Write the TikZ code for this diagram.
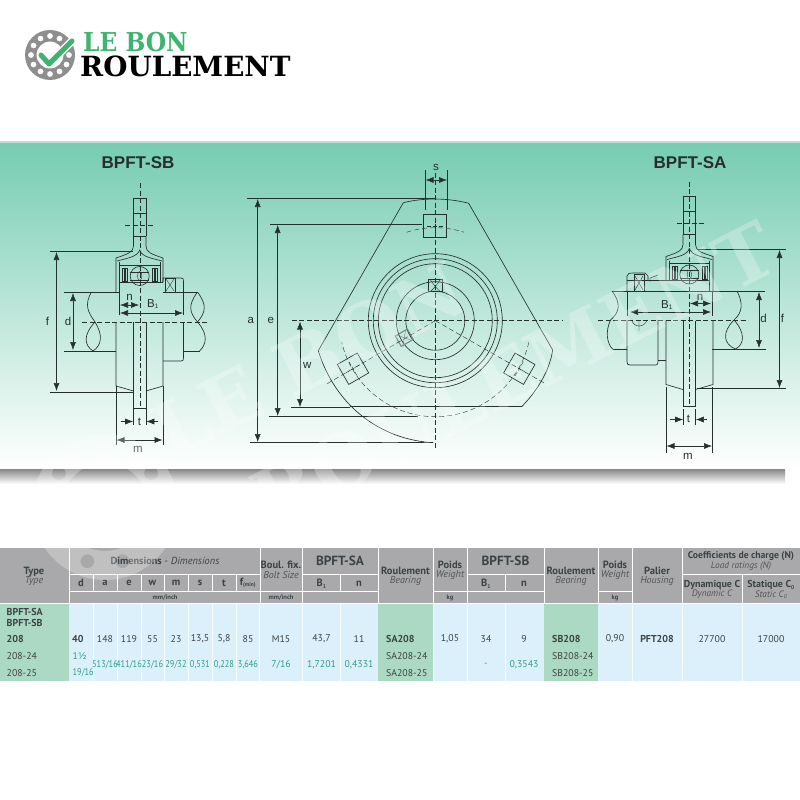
\documentclass[tikz,border=0pt]{standalone}
\usepackage{fontspec}
\setmainfont{PT Sans}
\newfontfamily\labelfont{Liberation Sans}
\newfontfamily\slabfont{DejaVu Serif}
\usetikzlibrary{arrows.meta}
\definecolor{hdrgray}{HTML}{A9A9AB}
\definecolor{bodyblue}{HTML}{DCF0FB}
\definecolor{bodygreen}{HTML}{ABD9C3}
\definecolor{inchgreen}{HTML}{2F9E88}
\definecolor{txtdark}{HTML}{3C4344}
\definecolor{inkline}{HTML}{25302E}
\definecolor{logogreen}{HTML}{3DB56E}
\definecolor{logogray}{HTML}{8E8E8E}
\definecolor{bandtop}{HTML}{76CCB1}
\definecolor{bandmid}{HTML}{BAE4D6}
\newcount\cellno
\newcommand\tc[4][]{\global\advance\cellno by 1 \node[cell,#1] (c\the\cellno) at (#2,#3) {#4};}
\tikzset{
  ink/.style={draw=inkline,line width=0.65pt},
  thin ink/.style={draw=inkline,line width=0.4pt},
  centerline/.style={draw=inkline,line width=0.45pt,dash pattern=on 5pt off 2.5pt},
  dim/.style={draw=inkline,line width=0.55pt,{Latex[length=8pt,width=6pt]}-{Latex[length=8pt,width=6pt]}},
  dimin/.style={draw=inkline,line width=0.55pt,-{Latex[length=8pt,width=6pt]}},
  ext/.style={draw=inkline,line width=0.45pt},
  lab/.style={font=\labelfont\fontsize{11.5}{12}\selectfont,text=inkline,inner sep=0pt},
  title/.style={font=\labelfont\bfseries\fontsize{17}{18}\selectfont,text=inkline,inner sep=0pt},
  cell/.style={inner sep=0pt,align=center,text=txtdark,font=\fontsize{9.8}{10}\selectfont},
  inch/.style={text=inchgreen},
  squeeze/.style={xscale=.85},
  bold/.style={font=\bfseries\fontsize{10}{10}\selectfont},
  hb/.style={font=\bfseries\fontsize{10.5}{11}\selectfont,text=txtdark},
  hi/.style={font=\itshape\fontsize{10}{11}\selectfont,text=txtdark!90},
  hbig/.style={font=\bfseries\fontsize{13.3}{14}\selectfont,text=txtdark},
  tiny/.style={font=\bfseries\fontsize{6.5}{7}\selectfont,text=txtdark},
}
\newcommand\stemview{%
  \draw[ink] (133.5,236) -- (133.5,198) -- (146,198) -- (146,236);
  \draw[thin ink] (133.5,213) -- (146,213) (133.5,236) -- (146,236);
  \draw[ink] (133.5,236) -- (133.5,246) .. controls (133.5,252) and (128,254) .. (116,258) -- (116,293);
  \draw[ink] (146,236) -- (146,246) .. controls (146,252) and (151,254) .. (163,258) -- (163,282);
  \draw[ink] (117,261) .. controls (128,258) and (137,257) .. (139.7,250) .. controls (142,257) and (151,258) .. (162,261);
  \draw[thin ink] (119.5,262) -- (119.5,282) (160,262) -- (160,282);
  \draw[thin ink] (119.5,265) -- (160,265);
  \draw[thin ink] (122,268) rectangle (127,281) (152,268) rectangle (157,281);
  \draw[thin ink] (123.7,268) -- (123.7,281) (125.3,268) -- (125.3,281) (153.7,268) -- (153.7,281) (155.3,268) -- (155.3,281);
  \draw[ink] (139.7,276) circle (9.5);
  \draw[thin ink] (130,272) -- (149,272) (130,280) -- (149,280);
  \draw[thin ink] (139.7,276) ellipse (2.2 and 4.5);
  \draw[ink] (119.5,282) -- (163,282) (119.5,282) -- (119.5,292);
  \draw[ink] (116,322) -- (116,386) -- (133.5,391);
  \draw[ink] (163,322) -- (163,386) -- (146,391);
  \draw[ink] (133.5,322) -- (133.5,408) -- (146,408) -- (146,322);
  \draw[centerline] (140,183) -- (140,408);
  \draw[centerline] (125,225) -- (154,225);
}
\newcommand\boltsquare{%
  \draw[ink] (-11.5,-11.5) rectangle (11.5,11.5);
  \draw[thin ink,dash pattern=on 4pt off 2pt] (-8,0) -- (8,0) (0,-8) -- (0,8);
}
\begin{document}
\begin{tikzpicture}[x=1pt,y=-1pt]
\useasboundingbox (0,0) rectangle (800,800);
\fill[white] (0,0) rectangle (800,800);
% ---------- band ----------
\shade[top color=black!50,bottom color=white] (0,468) rectangle (785,484);
\shade[top color=bandtop,middle color=bandmid,bottom color=white] (0,142) rectangle (800,468.5);
\fill[bandtop!55] (0,141) rectangle (800,142.5);
% ---------- logo ----------
\begin{scope}[shift={(50,55)}]
  \fill[logogray,even odd rule] (0,0) circle (25) (0,0) circle (13.5)
    (0:19) circle (3) (30:19) circle (3) (60:19) circle (3) (90:19) circle (3) (120:19) circle (3) (150:19) circle (3)
    (180:19) circle (3) (210:19) circle (3) (240:19) circle (3) (270:19) circle (3) (300:19) circle (3) (330:19) circle (3);
\end{scope}
\draw[white,line width=8pt,line cap=round,line join=round] (41,55) -- (49,64) -- (72,41);
\draw[logogreen,line width=5pt,line cap=round,line join=round] (41,55) -- (49,64) -- (72,41);
\node[anchor=base west,inner sep=0pt,text=logogreen,xscale=.9,font=\slabfont\bfseries\fontsize{26}{27}\selectfont] (logoA) at (83,51.5) {LE BON};
\node[anchor=base west,inner sep=0pt,text=black,font=\slabfont\bfseries\fontsize{27.8}{30}\selectfont] (logoB) at (80,76.5) {ROULEMENT};
% ---------- titles ----------
\node[title] (tsb) at (138,162.5) {BPFT-SB};
\node[title] (tsa) at (690,162.5) {BPFT-SA};
% ---------- left view BPFT-SB ----------
\stemview
\draw[ink] (119.5,292) -- (88,292);
\draw[ink] (163,292) -- (198,292);
\draw[ink] (163,282) -- (163,278) -- (181,278) .. controls (183,278) and (183.5,279) .. (183.5,281) -- (183.5,292);
\draw[thin ink] (165,278) rectangle (175,292);
\draw[thin ink] (166,279) -- (170,285) -- (174,279) (166,291) -- (170,285) -- (174,291);
\draw[ink] (163,361) -- (181,361) .. controls (183,361) and (183.5,360) .. (183.5,358) -- (183.5,322);
\draw[ink] (183.5,351) -- (200,351) (116,351) -- (93,351);
\draw[ink] (91.5,292) .. controls (84,305) and (88,312) .. (95,322);
\draw[ink] (95,322) .. controls (83,335) and (84,345) .. (93,351);
\draw[ink] (95,322) .. controls (103,335) and (102,345) .. (93,351);
\draw[ink] (197.5,292) .. controls (188,305) and (189,312) .. (197.5,322);
\draw[ink] (197.5,292) .. controls (207,305) and (206,312) .. (197.5,322);
\draw[ink] (197.5,322) .. controls (209,335) and (206,345) .. (199.5,351);
\draw[centerline] (82,322) -- (207,322);
\draw[thin ink] (119.5,292) -- (119.5,315) (183.5,292) -- (183.5,315);
\draw[ext] (50,251) -- (133,251) (50,392) -- (133,392);
\draw[dim] (56.5,252) -- (56.5,391);
\node[lab] (fL) at (47.5,321.5) {f};
\draw[ext] (64,292) -- (119,292) (64,351) -- (116,351);
\draw[dim] (73,293) -- (73,350);
\node[lab] (dL) at (68,321.5) {d};
\draw[dim] (120,305) -- (139,305);
\node[lab] (nL) at (129.5,297) {n};
\draw[dim] (120,313) -- (183,313);
\node[lab] (b1L) at (153,304) {B\textsubscript{\fontsize{6.5}{7}\selectfont 1}};
\draw[ext] (133.5,408) -- (133.5,425) (146,408) -- (146,425);
\draw[dimin] (121,421.5) -- (133.2,421.5);
\draw[dimin] (158,421.5) -- (146.3,421.5);
\node[lab] (tL) at (139.5,421.5) {t};
\draw[ext] (116,386) -- (116,445) (163,386) -- (163,445);
\draw[dim] (116.5,440) -- (162.5,440);
\node[lab] (mL) at (138,449) {m};
% ---------- right view BPFT-SA ----------
\begin{scope}[xshift=829pt,xscale=-1,yshift=1.5pt]
  \stemview
\end{scope}
\draw[ink] (612,291) -- (737,291);
\draw[ink] (712,349) -- (766,349);
\draw[ink] (666,280.5) -- (627,280.5);
\draw[ink] (627,291) -- (627,276) .. controls (627,273) and (630,273) .. (633,273) -- (645,273) -- (648,276) -- (648,280.5);
\draw[thin ink] (634,274) rectangle (644,291);
\draw[thin ink] (635,276) -- (639,283) -- (643,276) (635,290) -- (639,283) -- (643,290);
\draw[thin ink] (650,278) -- (658,275) (650,278) -- (650,282);
\draw[ink] (627,320) -- (627,362) .. controls (627,364) and (628,365) .. (630,365) -- (656,365) .. controls (657,365) and (658,364) .. (658,362) -- (658,320);
\draw[ink] (658,360) -- (666,360);
\draw[thin ink] (632,320) .. controls (633,328) and (645,328) .. (647,320) (639,320) -- (639,331);
\draw[ink] (612,291) .. controls (621,303) and (620,312) .. (610.5,320);
\draw[ink] (610.5,320) .. controls (605,332) and (607,344) .. (613,349.5) -- (627,349.5);
\draw[ink] (737,291) .. controls (743,303) and (743,312) .. (734,320);
\draw[ink] (734,320) .. controls (722,332) and (723,344) .. (735.5,349);
\draw[ink] (734,320) .. controls (745,332) and (745,344) .. (735.5,349);
\draw[centerline] (598,320) -- (748,320);
\draw[thin ink] (627,291) -- (627,316) (712,291) -- (712,316);
\draw[ext] (697,249) -- (786,249) (697,388.5) -- (786,388.5);
\draw[dim] (779.5,250) -- (779.5,388);
\node[lab] (fR) at (782.5,318.5) {f};
\draw[ext] (737,291) -- (765,291);
\draw[dim] (759,292) -- (759,348);
\node[lab] (dR) at (763.5,318.5) {d};
\draw[dim] (690,303.5) -- (711,303.5);
\node[lab] (nR) at (700,297) {n};
\draw[dim] (630,312) -- (711,312);
\node[lab] (b1R) at (667,305) {B\textsubscript{\fontsize{6.5}{7}\selectfont 1}};
\draw[ext] (683.5,409) -- (683.5,425) (695.5,409) -- (695.5,425);
\draw[dimin] (670,419.5) -- (683.2,419.5);
\draw[dimin] (707,419.5) -- (695.8,419.5);
\node[lab] (tR) at (688.5,419) {t};
\draw[ext] (666,387) -- (666,453) (712.5,387) -- (712.5,453);
\draw[dim] (666.5,446) -- (712,446);
\node[lab] (mR) at (688,456) {m};
% ---------- centre view ----------
\begin{scope}[shift={(435.3,320.7)}]
  \draw[ink] (-32,-118) .. controls (-12,-123) and (12,-123) .. (33.4,-117.4) -- (117.4,29.3);
  \draw[ink] (117.4,29.3) .. controls (114,52) and (100,72) .. (86.4,86);
  \draw[ink] (-32,-118) -- (-117,30);
  \draw[ink] (-117,30) .. controls (-100,85) and (-55,119) .. (-2,122);
  \draw[line width=1pt,draw=inkline] (-85,86) -- (86.4,86);
  \draw[ink] (0,0) circle (67) (0,0) circle (62) (0,0) circle (57);
  \draw[ink] (0,0) circle (39) (0,0) circle (29.5);
  \draw[thin ink,dash pattern=on 5pt off 3pt] plot[domain=-108:-72,samples=20] (\x:93);
  \draw[thin ink,dash pattern=on 5pt off 3pt] plot[domain=13:167,samples=60] (\x:96);
  \begin{scope}[shift={(0,-95)}]\boltsquare\end{scope}
  \begin{scope}[shift={(-82.3,48)},rotate=30]\boltsquare\end{scope}
  \begin{scope}[shift={(84,48)},rotate=-30]\boltsquare\end{scope}
  \draw[ink] (-7,-41) rectangle (7,-29);
  \draw[thin ink] (-5,-41) -- (0,-34) -- (5,-41) (-5,-29) -- (0,-34) -- (5,-29);
  \begin{scope}[shift={(-31,17)},rotate=30]
    \draw[draw=inkline!60,line width=1pt] (-7,-6) rectangle (7,6);
    \draw[draw=inkline!60,line width=0.4pt] (-5,-6) -- (0,0) -- (5,-6) (-5,6) -- (0,0) -- (5,6);
  \end{scope}
  \draw[centerline] (0,-148) -- (0,127);
  \draw[centerline] (-143.5,0) -- (128,0);
  \draw[thin ink,dash pattern=on 5pt off 3pt] (0,0) -- (-109,63.5) (0,0) -- (111,63.5);
\end{scope}
\draw[ext] (247,198.3) -- (435,198.3) (250,442.7) -- (433,442.7);
\draw[dim] (257.7,199) -- (257.7,442);
\node[lab] (aC) at (250.7,320.7) {a};
\draw[ext] (270,224.3) -- (422,224.3) (269,416.7) -- (418,416.7);
\draw[dim] (277.7,225) -- (277.7,416);
\node[lab] (eC) at (270.7,320.7) {e};
\draw[ext] (291,407.5) -- (350,407.5);
\draw[dim] (300,321.5) -- (300,407);
\node[lab] (wC) at (307.3,365.3) {w};
\draw[ext] (425,170) -- (425,210) (447.3,170) -- (447.3,210);
\draw[dim] (425.5,180) -- (447,180);
\node[lab] (sC) at (436,167.3) {s};
% ---------- table ----------
\fill[hdrgray] (0,548) rectangle (800,603);
\fill[bodyblue] (69,603) rectangle (800,681);
\fill[bodygreen] (0,603) rectangle (69,681);
\fill[bodygreen] (378,603) rectangle (433,681);
\fill[bodygreen] (544,603) rectangle (598,681);
\begin{scope}[white,line width=0.8pt]
  \foreach \x in {69,260,302.5,378,433,467,544,598,632,682} {\draw (\x,548) -- (\x,603);}
  \foreach \x in {93,117,141,164,188,212,236} {\draw (\x,574) -- (\x,591);}
  \foreach \x in {340,505} {\draw (\x,574) -- (\x,591);}
  \draw (742,574) -- (742,603);
  \draw (69,574) -- (260,574) (302.5,574) -- (378,574) (467,574) -- (544,574) (682,574) -- (800,574);
  \draw (69,591) -- (378,591) (433,591) -- (544,591) (598,591) -- (632,591);
  \draw (0,603) -- (800,603);
  \foreach \x in {93,117,141,164,188,212,236,259.5,302.5,340,433,467,505,632,682,742} {\draw[opacity=.75,line width=0.7pt] (\x,603.5) -- (\x,681);}
\end{scope}
\tc[hb]{34}{571.5}{Type}
\tc[hi]{34}{581}{Type}
\tc[font=\fontsize{10.3}{11}\selectfont]{165}{561}{\bfseries Dimensions\ \mdseries - \itshape Dimensions}
\foreach \x/\y in {81/d,105/a,129/e,152.5/w,176/m,200/s,224/t} {\tc[hb]{\x}{583}{\y}}
\tc[hb]{248}{583}{f\textsubscript{\fontsize{5.5}{6}\selectfont (min)}}
\tc[tiny]{165}{597.5}{mm/inch}
\tc[hb]{281}{565}{Boul. fix.}
\tc[hi]{281}{575}{Bolt Size}
\tc[tiny]{281}{597.5}{mm/inch}
\tc[hbig]{340}{561}{BPFT-SA}
\tc[hb]{321.5}{583.5}{B\textsubscript{\fontsize{5.5}{6}\selectfont 1}}
\tc[hb]{359}{583.5}{n}
\tc[hb]{405.5}{571}{Roulement}
\tc[hi]{405.5}{581}{Bearing}
\tc[hb]{450}{565}{Poids}
\tc[hi]{450}{575}{Weight}
\tc[tiny]{450}{597.5}{kg}
\tc[hbig]{505.5}{561}{BPFT-SB}
\tc[hb]{486}{583.5}{B\textsubscript{\fontsize{5.5}{6}\selectfont 1}}
\tc[hb]{524}{583.5}{n}
\tc[hb]{571}{571}{Roulement}
\tc[hi]{571}{581}{Bearing}
\tc[hb]{615}{565}{Poids}
\tc[hi]{615}{575}{Weight}
\tc[tiny]{615}{597.5}{kg}
\tc[hb]{657}{571}{Palier}
\tc[hi]{657}{581}{Housing}
\tc[hb,font=\bfseries\fontsize{9.7}{10}\selectfont]{741}{556}{Coefficients de charge (N)}
\tc[hi,font=\itshape\fontsize{9.3}{10}\selectfont]{741}{566}{Load ratings (N)}
\tc[hb,font=\bfseries\fontsize{10}{11}\selectfont]{712}{585}{Dynamique C}
\tc[hi,font=\itshape\fontsize{9.3}{10}\selectfont]{712}{594.5}{Dynamic C}
\tc[hb,font=\bfseries\fontsize{10}{11}\selectfont]{771}{585}{Statique C\textsubscript{\fontsize{5.5}{6}\selectfont 0}}
\tc[hi,font=\itshape\fontsize{9.3}{10}\selectfont]{771}{594.5}{Static C\textsubscript{\fontsize{5.5}{6}\selectfont 0}}
\tc[bold,anchor=west]{6.5}{611.5}{BPFT-SA}
\tc[bold,anchor=west]{6.5}{623}{BPFT-SB}
\tc[bold,anchor=west]{6.5}{639}{208}
\tc[anchor=west]{6.5}{656}{208-24}
\tc[anchor=west]{6.5}{673}{208-25}
\tc[bold,anchor=west]{72}{639}{40}
\tc[inch,anchor=west]{72.5}{656}{1½}
\tc[inch,squeeze,anchor=west]{72.5}{673}{19/16}
\foreach \x/\y in {105/148,129/119,152.5/55,176/23,200/{13,5},224/{5,8},248/85,281/M15,321.5/{43,7},359/11,450/{1,05},486/34,524/9,615/{0,90},712/27700,771/17000} {\tc{\x}{639}{\y}}
\tc[inch,squeeze]{105}{665}{513/16}
\tc[inch,squeeze]{129}{665}{411/16}
\tc[inch,squeeze]{152.5}{665}{23/16}
\tc[inch,squeeze]{176}{665}{29/32}
\tc[inch,squeeze]{200}{665}{0,531}
\tc[inch,squeeze]{224}{665}{0,228}
\tc[inch,squeeze]{248}{665}{3,646}
\tc[inch]{281}{665}{7/16}
\tc[inch]{321.5}{665}{1,7201}
\tc[inch]{359}{665}{0,4331}
\tc[inch]{486}{665}{-}
\tc[inch]{524}{665}{0,3543}
\tc[bold,anchor=west]{386}{639}{SA208}
\tc[anchor=west]{386}{656}{SA208-24}
\tc[anchor=west]{386}{673}{SA208-25}
\tc[bold,anchor=west]{552}{639}{SB208}
\tc[anchor=west]{552}{656}{SB208-24}
\tc[anchor=west]{552}{673}{SB208-25}
\tc[bold]{657}{639}{PFT208}
% ---------- watermark ----------
\begin{scope}[opacity=.27]
  \begin{scope}[shift={(105,507)}]
    \fill[white,even odd rule] (0,0) circle (73) (0,0) circle (44)
      (0:57) circle (7) (36:57) circle (7) (72:57) circle (7) (108:57) circle (7) (144:57) circle (7)
      (180:57) circle (7) (216:57) circle (7) (252:57) circle (7) (288:57) circle (7) (324:57) circle (7);
  \end{scope}
  \node[anchor=base west,rotate=27,text=white,inner sep=0pt,font=\slabfont\bfseries\fontsize{76}{78}\selectfont] (wm1) at (170,462) {LE BON};
  \node[anchor=base west,rotate=27,text=white,inner sep=0pt,font=\slabfont\bfseries\fontsize{76}{78}\selectfont] (wm2) at (270,529) {ROULEMENT};
\end{scope}
\end{tikzpicture}
\end{document}
